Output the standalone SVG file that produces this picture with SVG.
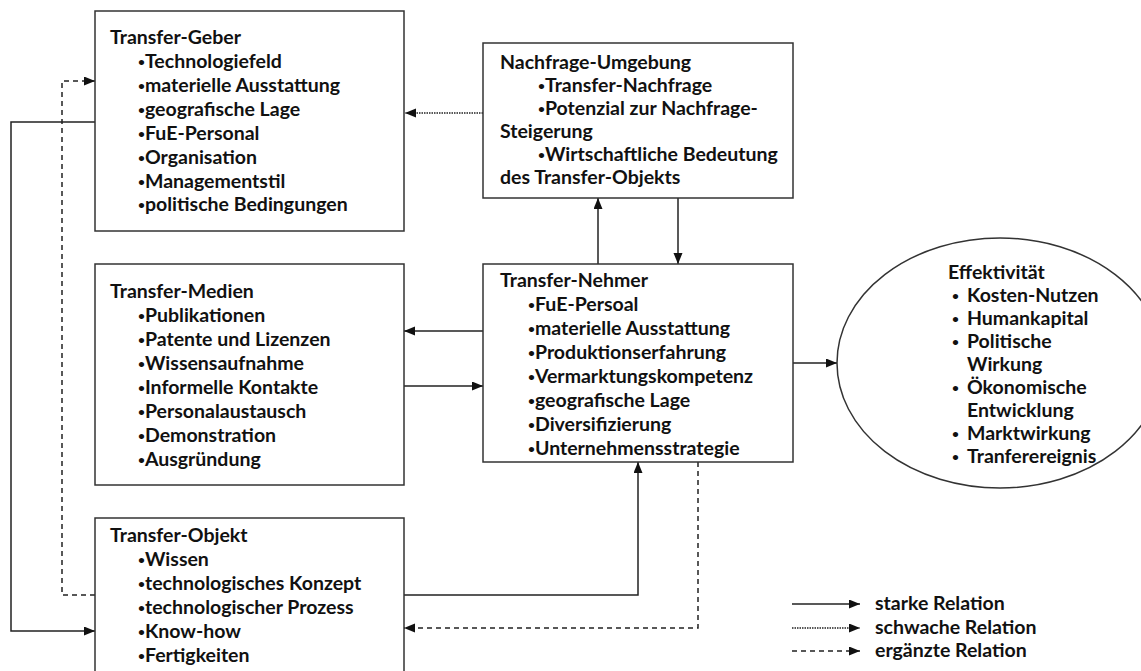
<svg xmlns="http://www.w3.org/2000/svg" width="1141" height="671" viewBox="0 0 1141 671">
<style>
  .box { fill: #fff; stroke: #333; stroke-width: 1.5; }
  .t { font-family: Lato, "Liberation Sans", sans-serif; font-weight: 700; font-size: 19.5px; fill: #111; }
  .b { font-size: 12px; }
  .line { fill: none; stroke: #222; stroke-width: 1.5; }
  .dot { stroke-dasharray: 1.5 1; stroke-width: 1.3; }
  .dash { stroke-dasharray: 5 4; }
</style>
<defs>
  <marker id="ah" markerUnits="userSpaceOnUse" markerWidth="12" markerHeight="10" refX="11" refY="4.5" orient="auto">
    <path d="M0,0 L11,4.5 L0,9 Z" fill="#111"/>
  </marker>
</defs>
<g id="connectors">
  <path class="line dot" d="M483,113 L405,113" marker-end="url(#ah)"/>
  <path class="line" d="M598,265 L598,198" marker-end="url(#ah)"/>
  <path class="line" d="M678,198 L678,264" marker-end="url(#ah)"/>
  <path class="line" d="M483,331 L404,331" marker-end="url(#ah)"/>
  <path class="line" d="M404,386 L483,386" marker-end="url(#ah)"/>
  <path class="line" d="M793,363 L837,363" marker-end="url(#ah)"/>
  <path class="line" d="M404,595 L638,595 L638,462" marker-end="url(#ah)"/>
  <path class="line dash" d="M698,462 L698,628 L404,628" marker-end="url(#ah)"/>
  <path class="line" d="M95,122 L11,122 L11,631 L95,631" marker-end="url(#ah)"/>
  <path class="line dash" d="M95,595 L62,595 L62,81 L95,81" marker-end="url(#ah)"/>
</g>
<g id="transfer-geber">
  <rect class="box" x="95" y="11" width="309" height="220"/>
  <text class="t" x="110" y="44">Transfer-Geber</text>
  <text class="t" x="138" y="68"><tspan class="b" dy="-2">•</tspan><tspan dy="2">Technologiefeld</tspan></text>
  <text class="t" x="138" y="92"><tspan class="b" dy="-2">•</tspan><tspan dy="2">materielle Ausstattung</tspan></text>
  <text class="t" x="138" y="116"><tspan class="b" dy="-2">•</tspan><tspan dy="2">geografische Lage</tspan></text>
  <text class="t" x="138" y="140"><tspan class="b" dy="-2">•</tspan><tspan dy="2">FuE-Personal</tspan></text>
  <text class="t" x="138" y="164"><tspan class="b" dy="-2">•</tspan><tspan dy="2">Organisation</tspan></text>
  <text class="t" x="138" y="188"><tspan class="b" dy="-2">•</tspan><tspan dy="2">Managementstil</tspan></text>
  <text class="t" x="138" y="211"><tspan class="b" dy="-2">•</tspan><tspan dy="2">politische Bedingungen</tspan></text>
</g>
<g id="nachfrage-umgebung">
  <rect class="box" x="483" y="43" width="310" height="155"/>
  <text class="t" x="500" y="69">Nachfrage-Umgebung</text>
  <text class="t" x="538" y="92"><tspan class="b" dy="-2">•</tspan><tspan dy="2">Transfer-Nachfrage</tspan></text>
  <text class="t" x="538" y="115"><tspan class="b" dy="-2">•</tspan><tspan dy="2">Potenzial zur Nachfrage-</tspan></text>
  <text class="t" x="500" y="138">Steigerung</text>
  <text class="t" x="538" y="161"><tspan class="b" dy="-2">•</tspan><tspan dy="2">Wirtschaftliche Bedeutung</tspan></text>
  <text class="t" x="500" y="184">des Transfer-Objekts</text>
</g>
<g id="transfer-medien">
  <rect class="box" x="95" y="264" width="309" height="221"/>
  <text class="t" x="110" y="298">Transfer-Medien</text>
  <text class="t" x="138" y="322"><tspan class="b" dy="-2">•</tspan><tspan dy="2">Publikationen</tspan></text>
  <text class="t" x="138" y="346"><tspan class="b" dy="-2">•</tspan><tspan dy="2">Patente und Lizenzen</tspan></text>
  <text class="t" x="138" y="370"><tspan class="b" dy="-2">•</tspan><tspan dy="2">Wissensaufnahme</tspan></text>
  <text class="t" x="138" y="394"><tspan class="b" dy="-2">•</tspan><tspan dy="2">Informelle Kontakte</tspan></text>
  <text class="t" x="138" y="418"><tspan class="b" dy="-2">•</tspan><tspan dy="2">Personalaustausch</tspan></text>
  <text class="t" x="138" y="442"><tspan class="b" dy="-2">•</tspan><tspan dy="2">Demonstration</tspan></text>
  <text class="t" x="138" y="466"><tspan class="b" dy="-2">•</tspan><tspan dy="2">Ausgründung</tspan></text>
</g>
<g id="transfer-nehmer">
  <rect class="box" x="483" y="264" width="310" height="198"/>
  <text class="t" x="500" y="287">Transfer-Nehmer</text>
  <text class="t" x="528" y="311"><tspan class="b" dy="-2">•</tspan><tspan dy="2">FuE-Persoal</tspan></text>
  <text class="t" x="528" y="335"><tspan class="b" dy="-2">•</tspan><tspan dy="2">materielle Ausstattung</tspan></text>
  <text class="t" x="528" y="359"><tspan class="b" dy="-2">•</tspan><tspan dy="2">Produktionserfahrung</tspan></text>
  <text class="t" x="528" y="383"><tspan class="b" dy="-2">•</tspan><tspan dy="2">Vermarktungskompetenz</tspan></text>
  <text class="t" x="528" y="407"><tspan class="b" dy="-2">•</tspan><tspan dy="2">geografische Lage</tspan></text>
  <text class="t" x="528" y="431"><tspan class="b" dy="-2">•</tspan><tspan dy="2">Diversifizierung</tspan></text>
  <text class="t" x="528" y="455"><tspan class="b" dy="-2">•</tspan><tspan dy="2">Unternehmensstrategie</tspan></text>
</g>
<g id="transfer-objekt">
  <rect class="box" x="95" y="518" width="309" height="170"/>
  <text class="t" x="110" y="542">Transfer-Objekt</text>
  <text class="t" x="138" y="566"><tspan class="b" dy="-2">•</tspan><tspan dy="2">Wissen</tspan></text>
  <text class="t" x="138" y="590"><tspan class="b" dy="-2">•</tspan><tspan dy="2">technologisches Konzept</tspan></text>
  <text class="t" x="138" y="614"><tspan class="b" dy="-2">•</tspan><tspan dy="2">technologischer Prozess</tspan></text>
  <text class="t" x="138" y="638"><tspan class="b" dy="-2">•</tspan><tspan dy="2">Know-how</tspan></text>
  <text class="t" x="138" y="662"><tspan class="b" dy="-2">•</tspan><tspan dy="2">Fertigkeiten</tspan></text>
</g>
<g id="effektivitaet">
  <ellipse class="box" cx="1000" cy="363" rx="163" ry="125"/>
  <text class="t" x="948" y="279">Effektivität</text>
  <text class="t" y="302"><tspan class="b" x="952" dy="-2">•</tspan><tspan x="967" dy="2">Kosten-Nutzen</tspan></text>
  <text class="t" y="325"><tspan class="b" x="952" dy="-2">•</tspan><tspan x="967" dy="2">Humankapital</tspan></text>
  <text class="t" y="348"><tspan class="b" x="952" dy="-2">•</tspan><tspan x="967" dy="2">Politische</tspan></text>
  <text class="t" x="967" y="371">Wirkung</text>
  <text class="t" y="394"><tspan class="b" x="952" dy="-2">•</tspan><tspan x="967" dy="2">Ökonomische</tspan></text>
  <text class="t" x="967" y="417">Entwicklung</text>
  <text class="t" y="440"><tspan class="b" x="952" dy="-2">•</tspan><tspan x="967" dy="2">Marktwirkung</tspan></text>
  <text class="t" y="463"><tspan class="b" x="952" dy="-2">•</tspan><tspan x="967" dy="2">Tranferereignis</tspan></text>
</g>
<g id="legend">
  <path class="line" d="M792,604 L860,604" marker-end="url(#ah)"/>
  <path class="line dot" d="M792,628 L860,628" marker-end="url(#ah)"/>
  <path class="line dash" d="M792,651 L860,651" marker-end="url(#ah)"/>
  <text class="t" x="875" y="610">starke Relation</text>
  <text class="t" x="875" y="634">schwache Relation</text>
  <text class="t" x="875" y="657">ergänzte Relation</text>
</g>
</svg>
